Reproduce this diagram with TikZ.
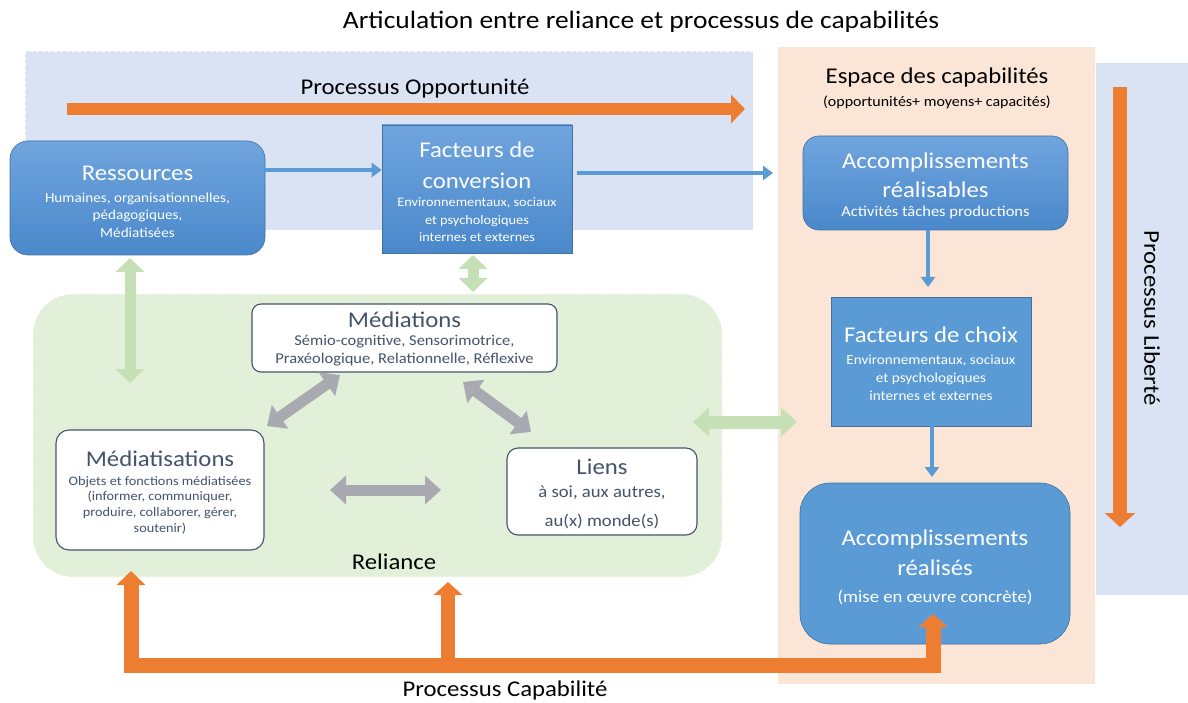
\documentclass[tikz,border=0pt]{standalone}
\usepackage{fontspec}
\setmainfont{Carlito}[FakeStretch=1.1]
\usetikzlibrary{arrows.meta}
\definecolor{lav}{HTML}{DAE3F3}
\definecolor{peach}{HTML}{FBE5D6}
\definecolor{lgreen}{HTML}{E2F0D9}
\definecolor{garrow}{HTML}{C5E0B4}
\definecolor{grayarr}{HTML}{A9AAB1}
\definecolor{orng}{HTML}{ED7D31}
\definecolor{bline}{HTML}{5B9BD5}
\definecolor{btop}{HTML}{70A5DE}
\definecolor{bbot}{HTML}{4A88CB}
\definecolor{bflat}{HTML}{5B9BD5}
\definecolor{bedge}{HTML}{41719C}
\definecolor{slate}{HTML}{44546A}
\newcommand\myfs[2]{\fontsize{#1}{#2}\selectfont}
\begin{document}
\begin{tikzpicture}[x=1pt,y=-1pt,
  bluebox/.style={draw=bedge, line width=0.6pt, top color=btop, bottom color=bbot, inner sep=0pt},
  flatbox/.style={draw=bedge, line width=0.6pt, fill=bflat, inner sep=0pt},
  whitebox/.style={draw=slate, line width=1.1pt, fill=white, inner sep=0pt, rounded corners=9pt},
  wt/.style={text=white, align=center, inner sep=0pt},
  st/.style={text=slate, align=center, inner sep=0pt},
  bt/.style={text=black, align=center, inner sep=0pt},
  bigf/.style={font=\myfs{22.5}{30}},
  barrow/.style={draw=bline, line width=4.5pt, -{Triangle[length=10pt,width=14pt]}},
  oarrow/.style={draw=orng, line width=14pt},
  garr/.style={draw=garrow, line width=11pt, {Triangle[length=14pt,width=28pt]}-{Triangle[length=14pt,width=28pt]}},
  grarr/.style={draw=grayarr, line width=11pt, {Triangle[length=16pt,width=28pt]}-{Triangle[length=16pt,width=28pt]}}
]
\useasboundingbox (0,0) rectangle (1188,703);
% backgrounds
\fill[lav] (25,51) rectangle (753,230);
\draw[white, dashed, line width=0.8pt] (25,51) rectangle (753,230);
\fill[peach] (778,47) rectangle (1095,684);
\fill[lav] (1096,63) rectangle (1188,595);
\node[fill=lgreen, draw=white, dashed, line width=0.8pt, rounded corners=40pt, minimum width=689pt, minimum height=283pt, inner sep=0pt] (rel) at (377.5,435.5) {};

% title
\node[bt, font=\myfs{25}{30}] (title) at (641,22) {Articulation entre reliance et processus de capabilités};

% Opportunity arrow
\coordinate (opps) at (67,109);
\coordinate (oppe) at (745,109);
\draw[oarrow, line width=12pt, -{Triangle[length=14pt,width=28pt]}] (opps) -- (oppe);
\node[bt, bigf] (oppl) at (415,89) {Processus Opportunité};

% Liberty arrow
\coordinate (libs) at (1120,87);
\coordinate (libe) at (1120,527);
\draw[oarrow, -{Triangle[length=14pt,width=30pt]}] (libs) -- (libe);
\node[bt, bigf, rotate=-90] (libl) at (1152,318) {Processus Liberté};

% Espace
\node[bt, bigf] (espt) at (937,78) {Espace des capabilités};
\node[bt, font=\myfs{14.5}{17}] (esps) at (937,102) {(opportunités+ moyens+ capacités)};

% boxes
\node[bluebox, rounded corners=18pt, minimum width=255pt, minimum height=114pt] (ress) at (137.5,198) {};
\node[bluebox, minimum width=190pt, minimum height=128pt] (conv) at (477,189) {};
\node[bluebox, rounded corners=16pt, minimum width=265pt, minimum height=94pt] (accr) at (935.5,183) {};
\node[flatbox, minimum width=200pt, minimum height=129pt] (choix) at (931,361.5) {};
\node[flatbox, rounded corners=30pt, minimum width=270pt, minimum height=161pt] (real) at (935,563.5) {};
\node[whitebox, minimum width=305pt, minimum height=68pt] (med) at (404.5,338) {};
\node[whitebox, rounded corners=13pt, minimum width=208pt, minimum height=120pt] (mtis) at (160,490) {};
\node[whitebox, rounded corners=11pt, minimum width=190pt, minimum height=87pt] (liens) at (602,491.5) {};

% box texts
\node[wt, bigf] (resst) at (137.5,173) {Ressources};
\node[wt, font=\myfs{13.8}{17.5}] (resss) at (137.5,215) {Humaines, organisationnelles,\\pédagogiques,\\Médiatisées};
\node[wt, font=\myfs{22.5}{31}] (convt) at (477,165) {Facteurs de\\conversion};
\node[wt, font=\myfs{13}{17.5}] (convs) at (477,220) {Environnementaux, sociaux\\et psychologiques\\internes et externes};
\node[wt, font=\myfs{22.5}{29}] (accrt) at (935.5,175) {Accomplissements\\réalisables};
\node[wt, font=\myfs{15}{18}] (accrs) at (935.5,213) {Activités tâches productions};
\node[wt, bigf] (choixt) at (931,335) {Facteurs de choix};
\node[wt, font=\myfs{13.8}{18}] (choixs) at (931,378) {Environnementaux, sociaux\\et psychologiques\\internes et externes};
\node[wt, font=\myfs{22.5}{30}] (realt) at (935,553) {Accomplissements\\réalisés};
\node[wt, font=\myfs{17}{20}] (reals) at (935,597) {(mise en œuvre concrète)};
\node[st, bigf] (medt) at (404.5,320) {Médiations};
\node[st, font=\myfs{15}{18}] (meds) at (404.5,351) {Sémio-cognitive, Sensorimotrice,\\Praxéologique, Relationnelle, Réflexive};
\node[st, bigf] (mtist) at (160,459) {Médiatisations};
\node[st, font=\myfs{13}{15.7}] (mtiss) at (160,505) {Objets et fonctions médiatisées\\(informer, communiquer,\\produire, collaborer, gérer,\\soutenir)};
\node[st, bigf] (lienst) at (602,467) {Liens};
\node[st, font=\myfs{17}{29}] (lienss) at (602,507) {à soi, aux autres,\\au(x) monde(s)};
\node[bt, bigf] (rell) at (394,562) {Reliance};

% blue arrows
\coordinate (y170) at (0,170);
\coordinate (y173) at (0,173);
\coordinate (convend) at (773,173);
\coordinate (ch1) at (928,287);
\coordinate (re1) at (932,477);
\draw[barrow] (ress.east |- y170) -- (conv.west |- y170);
\draw[barrow] (conv.east |- y173) ++(5,0) -- (convend);
\draw[barrow] (accr.south -| ch1) -- (ch1);
\draw[barrow] (choix.south -| re1) -- (re1);

% green arrows
\coordinate (g1a) at (130,258);
\coordinate (g1b) at (130,383);
\coordinate (g2a) at (473,255);
\coordinate (g2b) at (473,292);
\coordinate (g3a) at (693,422);
\coordinate (g3b) at (797,422);
\draw[garr] (g1a) -- (g1b);
\draw[garr] (g2a) -- (g2b);
\draw[garr, line width=13pt, {Triangle[length=16pt,width=28pt]}-{Triangle[length=16pt,width=28pt]}] (g3a) -- (g3b);

% gray arrows
\coordinate (m1a) at (340,375);
\coordinate (m1b) at (267,426);
\coordinate (m2a) at (463,382);
\coordinate (m2b) at (531,432);
\coordinate (m3a) at (330,490);
\coordinate (m3b) at (441,490);
\draw[grarr] (m1a) -- (m1b);
\draw[grarr] (m2a) -- (m2b);
\draw[grarr] (m3a) -- (m3b);

% capability arrows
\coordinate (capL) at (131,571);
\coordinate (capLc) at (131,665);
\coordinate (capRc) at (933,665);
\coordinate (capR) at (933,614);
\coordinate (capM0) at (448,665);
\coordinate (capMt) at (448,582);
\draw[oarrow, line width=15pt, line join=miter, {Triangle[length=14pt,width=28pt]}-{Triangle[length=13pt,width=29pt]}] (capL) -- (capLc) -- (capRc) -- (capR);
\draw[oarrow, -{Triangle[length=13pt,width=28pt]}] (capM0) -- (capMt);
\node[bt, bigf] (capl) at (505,690) {Processus Capabilité};
\end{tikzpicture}
\end{document}
